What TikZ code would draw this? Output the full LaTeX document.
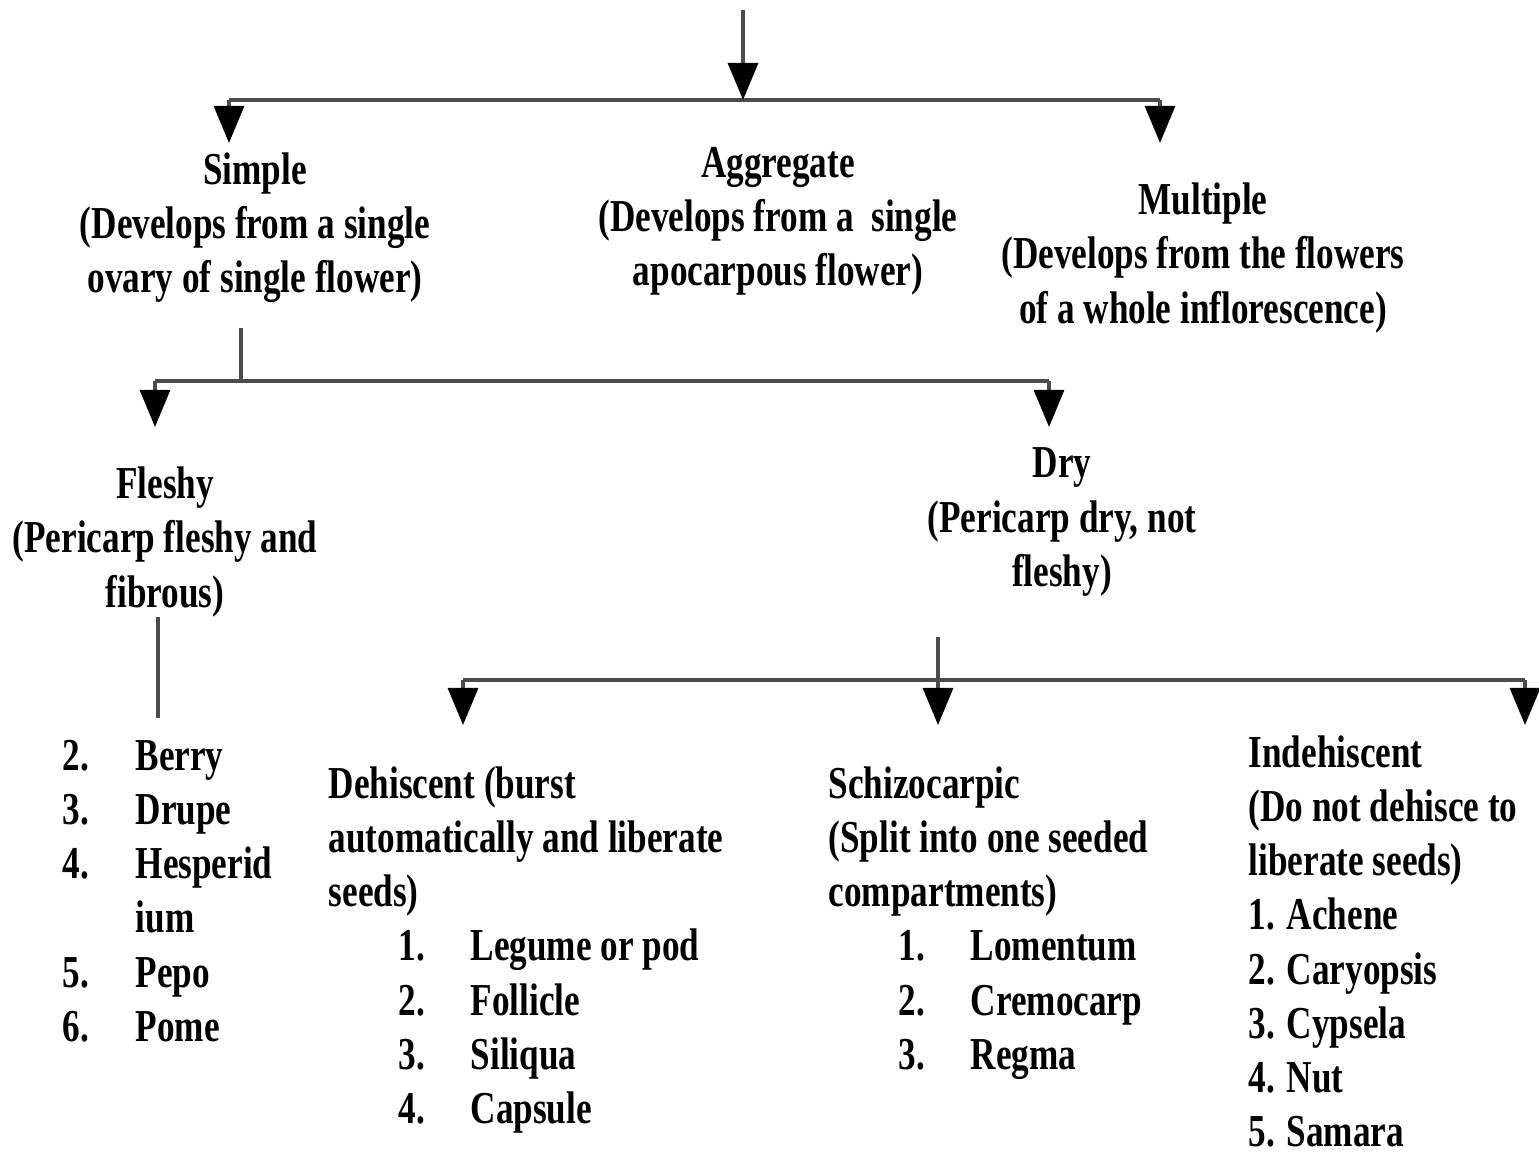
\documentclass[tikz,border=0pt]{standalone}
\usepackage{fontspec}
\setmainfont{Liberation Serif}[FakeStretch=0.77]
\usetikzlibrary{arrows.meta}

\tikzset{
  branch/.style={draw=black!70, line width=0.9pt},
  arr/.style={branch, -{Triangle[width=3mm,length=3.7mm,color=black]}},
  head/.style={align=center, inner sep=0pt},
  lst/.style={anchor=north west, inner sep=0pt},
}

\begin{document}
\begin{tikzpicture}[font=\fontsize{13}{15.4}\selectfont\bfseries]
\useasboundingbox (0,0) rectangle (15.39,11.56);

% first split: simple / aggregate / multiple
\coordinate (root) at (7.43,11.46);
\coordinate (rootbar) at (7.43,10.56);
\coordinate (simplebar) at (2.29,10.56);
\coordinate (multibar) at (11.60,10.56);
\coordinate (simpletip) at (2.29,10.13);
\coordinate (multitip) at (11.60,10.13);
\draw[branch] (simplebar) -- (multibar);

\node[head] (simple) at (2.55,9.28) {Simple\\(Develops from a single\\ovary of single flower)};
\node[head] (aggr) at (7.78,9.35) {Aggregate\\(Develops from a~ single\\apocarpous flower)};
\node[head] (multi) at (12.03,8.98) {Multiple\\(Develops from the flowers\\of a whole inflorescence)};

% second split: fleshy / dry
\coordinate (simplestem) at (2.41,8.28);
\coordinate (simplejoin) at (2.41,7.75);
\coordinate (fleshybar) at (1.55,7.75);
\coordinate (drybar) at (10.49,7.75);
\coordinate (fleshytip) at (1.55,7.29);
\coordinate (drytip) at (10.49,7.29);
\draw[branch] (simplestem) -- (simplejoin);
\draw[branch] (fleshybar) -- (drybar);

\node[head] (fleshy) at (1.65,6.14) {Fleshy\\(Pericarp fleshy and\\fibrous)};
\node[head] (dry) at (10.62,6.34) {Dry\\(Pericarp dry, not\\fleshy)};

% fleshy fruits
\coordinate (fleshystem) at (1.58,5.39);
\coordinate (fleshyend) at (1.58,4.38);
\draw[branch] (fleshystem) -- (fleshyend);
\node[lst] (fleshylist) at (0.62,4.24) {\begin{tabular}{@{}p{7.3mm}@{}l@{}}
2. & Berry\\ 3. & Drupe\\ 4. & Hesperid\\ & ium\\ 5. & Pepo\\ 6. & Pome
\end{tabular}};

% third split: dehiscent / schizocarpic / indehiscent
\coordinate (drystem) at (9.38,5.19);
\coordinate (schizotip) at (9.38,4.31);
\coordinate (dehiscbar) at (4.63,4.76);
\coordinate (indehbar) at (15.25,4.76);
\coordinate (dehisctip) at (4.63,4.31);
\coordinate (indehtip) at (15.25,4.31);
\draw[branch] (dehiscbar) -- (indehbar);

\node[lst] (dehisc) at (3.28,3.96) {\begin{tabular}{@{\hspace{7mm}}p{7.2mm}@{}l@{}}
\multicolumn{2}{@{}l@{}}{Dehiscent (burst}\\
\multicolumn{2}{@{}l@{}}{automatically and liberate}\\
\multicolumn{2}{@{}l@{}}{seeds)}\\
1. & Legume or pod\\ 2. & Follicle\\ 3. & Siliqua\\ 4. & Capsule
\end{tabular}};
\node[lst] (schizo) at (8.28,3.96) {\begin{tabular}{@{\hspace{7mm}}p{7.2mm}@{}l@{}}
\multicolumn{2}{@{}l@{}}{Schizocarpic}\\
\multicolumn{2}{@{}l@{}}{(Split into one seeded}\\
\multicolumn{2}{@{}l@{}}{compartments)}\\
1. & Lomentum\\ 2. & Cremocarp\\ 3. & Regma
\end{tabular}};
\node[lst] (indeh) at (12.48,4.27) {\begin{tabular}{@{}l@{}}
Indehiscent\\ (Do not dehisce to\\ liberate seeds)\\
1. Achene\\ 2. Caryopsis\\ 3. Cypsela\\ 4. Nut\\ 5. Samara
\end{tabular}};

% arrows
\foreach \a/\b in {root/rootbar, simplebar/simpletip, multibar/multitip,
  fleshybar/fleshytip, drybar/drytip, drystem/schizotip,
  dehiscbar/dehisctip, indehbar/indehtip}
  \draw[arr] (\a) -- (\b);

\end{tikzpicture}
\end{document}
